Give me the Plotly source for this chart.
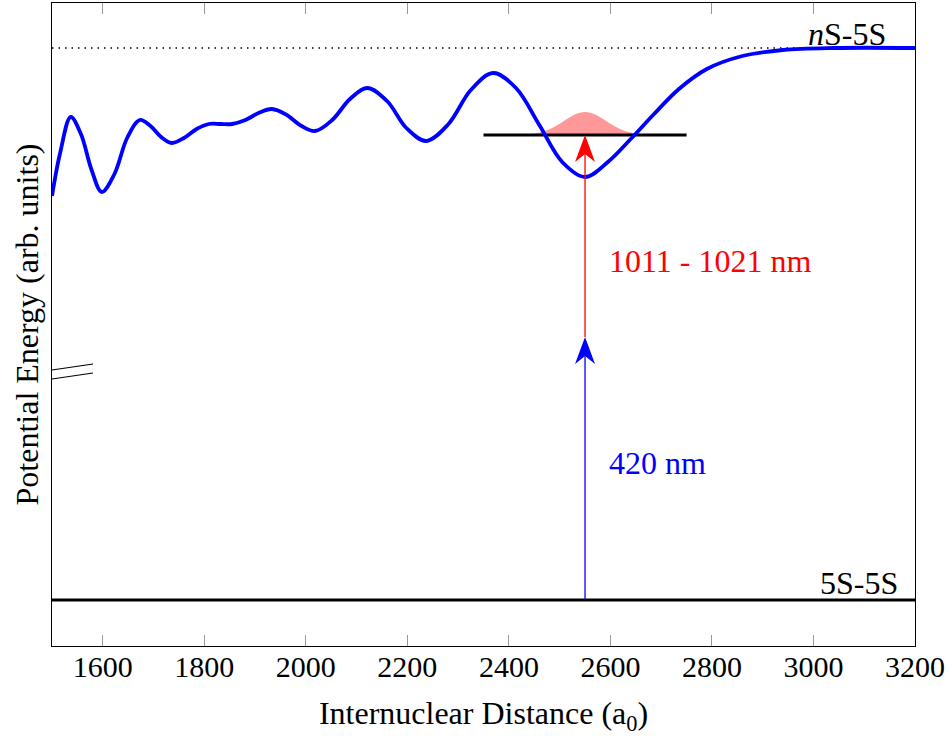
import plotly.graph_objects as go

# Potential curve of the nS-5S pair state (internuclear distance in a0, energy in arb. units)
r_curve = [1500, 1516, 1537, 1557, 1578, 1598, 1623, 1648, 1673, 1694, 1715, 1736,
           1760, 1785, 1809, 1832, 1855, 1881, 1907, 1933, 1961, 1990, 2018, 2052,
           2087, 2121, 2160, 2198, 2237, 2281, 2325, 2369, 2414, 2460, 2505, 2550,
           2595, 2640, 2686, 2735, 2790, 2860, 2940, 3040, 3200]
e_curve = [450, 493, 529, 512, 476, 454, 472, 508, 526, 520, 509, 503,
           508, 517, 522, 522, 522, 526, 533, 537, 531.5, 520.5, 515, 526,
           547, 558, 545, 518, 505, 522, 556, 573, 558, 521, 484, 469,
           484, 507, 532, 557, 577, 590, 596, 598, 598]

# Bound vibrational level and its wavefunction density
bound_r = [2350, 2750]
bound_e = 511
wf_r = [2430, 2450, 2470, 2490, 2510, 2530, 2550, 2570, 2590, 2610, 2630, 2650, 2670]
wf_e = [511.4, 512.4, 514.7, 519.3, 525.6, 531.5, 534.0, 531.5, 525.6, 519.3, 514.7, 512.4, 511.4]

# Asymptotes
asym_r = [1500, 3200]
ns5s_e = 598
g5s5s_e = 46

# Two-photon excitation path
exc_r = 2550
blue_from, blue_to = g5s5s_e, 309
red_from, red_to = 309, bound_e

x_ticks = [1600, 1800, 2000, 2200, 2400, 2600, 2800, 3000, 3200]

FONT = "Liberation Serif"
BLUE = "#0000ff"
RED = "#ff0000"

fig = go.Figure()

fig.add_trace(go.Scatter(x=wf_r, y=wf_e, mode="lines",
                         line=dict(width=0, shape="spline", simplify=False),
                         fill="toself", fillcolor="rgb(255,153,153)", hoverinfo="skip"))
fig.add_trace(go.Scatter(x=bound_r, y=[bound_e, bound_e], mode="lines",
                         line=dict(color="black", width=3.2)))
fig.add_trace(go.Scatter(x=asym_r, y=[ns5s_e, ns5s_e], mode="lines",
                         line=dict(color="black", width=1.5, dash="1.5px,5px")))
fig.add_trace(go.Scatter(x=asym_r, y=[g5s5s_e, g5s5s_e], mode="lines",
                         line=dict(color="black", width=3.2)))
fig.add_trace(go.Scatter(x=r_curve, y=e_curve, mode="lines",
                         line=dict(color=BLUE, width=3.8, shape="spline", smoothing=1.0,
                                   simplify=False)))
fig.add_trace(go.Scatter(x=[exc_r, exc_r], y=[blue_from, blue_to - 10], mode="lines",
                         line=dict(color=BLUE, width=1.3)))
fig.add_trace(go.Scatter(x=[exc_r, exc_r], y=[red_from, red_to - 10], mode="lines",
                         line=dict(color=RED, width=1.3)))

# Stealth-style arrow heads (pixel-sized paths anchored at the arrow tips)
head = "M0,0 L-10,-27 L0,-19 L10,-27 Z"
shapes = [
    dict(type="path", xref="x", yref="y", xsizemode="pixel", ysizemode="pixel",
         xanchor=exc_r, yanchor=blue_to, path=head, fillcolor=BLUE, line=dict(width=0)),
    dict(type="path", xref="x", yref="y", xsizemode="pixel", ysizemode="pixel",
         xanchor=exc_r, yanchor=red_to, path=head, fillcolor=RED, line=dict(width=0)),
    # axis break marks on the energy axis
    dict(type="line", xref="paper", yref="y", x0=0, x1=0.0475, y0=267, y1=273,
         line=dict(color="black", width=1.1)),
    dict(type="line", xref="paper", yref="y", x0=0, x1=0.0475, y0=276, y1=282,
         line=dict(color="black", width=1.1)),
]

annotations = [
    dict(x=2593, y=385, text="1011 - 1021 nm", showarrow=False, xanchor="left", yanchor="middle",
         font=dict(family=FONT, size=32, color=RED)),
    dict(x=2593, y=183, text="420 nm", showarrow=False, xanchor="left", yanchor="middle",
         font=dict(family=FONT, size=32, color=BLUE)),
    dict(x=3147, y=612, text="<i>n</i>S-5S", showarrow=False, xanchor="right", yanchor="middle",
         font=dict(family=FONT, size=32, color="black")),
    dict(x=3171, y=63, text="5S-5S", showarrow=False, xanchor="right", yanchor="middle",
         font=dict(family=FONT, size=32, color="black")),
]

fig.update_layout(
    width=949, height=736,
    margin=dict(l=52, r=34, t=3, b=90),
    paper_bgcolor="white", plot_bgcolor="white",
    showlegend=False,
    font=dict(family=FONT, size=30, color="black"),
    shapes=shapes,
    annotations=annotations,
    xaxis=dict(range=[1500, 3200], tickvals=x_ticks, ticks="inside", ticklen=11,
               tickcolor="#999999", tickwidth=1, showgrid=False, zeroline=False,
               showline=True, linecolor="black", linewidth=1.3, mirror="ticks",
               tickfont=dict(family=FONT, size=30), ticklabelstandoff=-6,
               title=dict(text="Internuclear Distance (a<sub>0</sub>)",
                          font=dict(family=FONT, size=32), standoff=22)),
    yaxis=dict(range=[0, 643], showticklabels=False, ticks="", showgrid=False,
               zeroline=False, showline=True, linecolor="black", linewidth=1.3, mirror=True,
               title=dict(text="Potential Energy (arb. units)",
                          font=dict(family=FONT, size=32), standoff=2)),
)

fig.write_html("out.html")
